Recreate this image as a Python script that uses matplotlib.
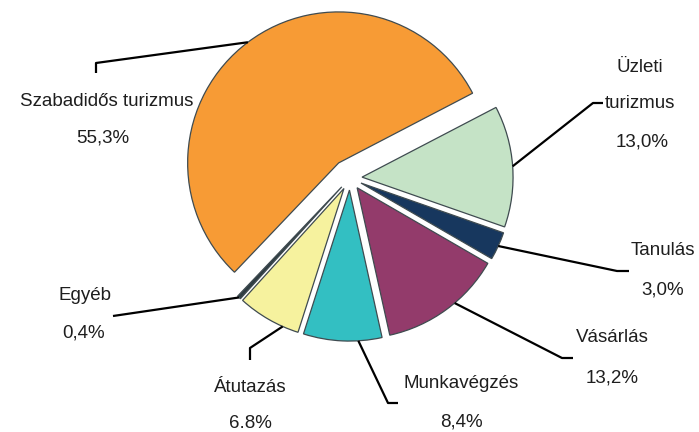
import numpy as np
import matplotlib
matplotlib.use("Agg")
import matplotlib.pyplot as plt

# ---- data ----
categories = ["Üzleti\nturizmus", "Tanulás", "Vásárlás", "Munkavégzés", "Átutazás", "Egyéb", "Szabadidős turizmus"]
values = [13.0, 3.0, 13.2, 8.4, 6.8, 0.4, 55.3]
value_labels = ["13,0%", "3,0%", "13,2%", "8,4%", "6.8%", "0,4%", "55,3%"]
colors = ["#C5E3C6", "#17375E", "#933B6B", "#33BFC2", "#F6F29E", "#2E3C42", "#F79B35"]
explode = [0.08, 0.08, 0.08, 0.08, 0.08, 0.08, 0.125]

# ---- layout (pixels) ----
W, H = 699, 432
CX, CY, R = 350, 178, 151

def p2d(px, py):
    return ((px - CX) / R, (CY - py) / R)

plt.rcParams['font.family'] = ['Liberation Sans Narrow', 'Liberation Sans', 'DejaVu Sans']

fig = plt.figure(figsize=(W / 100, H / 100), dpi=100)
ax = fig.add_axes([0, 0, 1, 1])
wedges, _ = ax.pie(values, colors=colors, explode=explode, startangle=27.5,
                   counterclock=False, radius=1,
                   wedgeprops=dict(edgecolor="#3F4B50", linewidth=0.9))
ax.set_xlim(-CX / R, (W - CX) / R)
ax.set_ylim((CY - H) / R, CY / R)
ax.set_aspect('equal')
ax.axis('off')

# label text positions (name line, value line) in pixels, elbow points
name_pos = [(640, 67), (663, 250), (612, 338), (461, 383), (250, 387), (85, 295), (107, 101)]
val_pos = [(642, 142), (663, 290), (612, 378), (461, 422), (250, 423), (84, 333), (103, 138)]
anchor_shift = [0, 0, 4, 6, 6, 0, 0]  # degrees from wedge middle
elbows = [
    [(593, 103), (603, 103)],
    [(617, 271), (629, 271)],
    [(562, 358), (573, 358)],
    [(388, 403), (398, 403)],
    [(250, 348), (250, 360)],
    [(113, 316)],
    [(96, 63), (96, 73)],
]

fs = 13.5
tc = "#1E1E1E"
for i, w in enumerate(wedges):
    mid = np.deg2rad((w.theta1 + w.theta2) / 2 + anchor_shift[i])
    cx, cy = w.center
    sx, sy = cx + np.cos(mid), cy + np.sin(mid)
    pts = [(sx, sy)] + [p2d(*p) for p in elbows[i]]
    xs, ys = zip(*pts)
    ax.plot(xs, ys, color="black", lw=1.6, solid_capstyle='butt')
    name = categories[i]
    if "\n" in name:
        a, b = name.split("\n")
        ax.text(*p2d(640, 67), a, ha='center', va='center', fontsize=fs, color=tc)
        ax.text(*p2d(640, 104), b, ha='center', va='center', fontsize=fs, color=tc)
    else:
        ax.text(*p2d(*name_pos[i]), name, ha='center', va='center', fontsize=fs, color=tc)
    ax.text(*p2d(*val_pos[i]), value_labels[i], ha='center', va='center', fontsize=fs, color=tc)

fig.savefig("out.png", dpi=100)
